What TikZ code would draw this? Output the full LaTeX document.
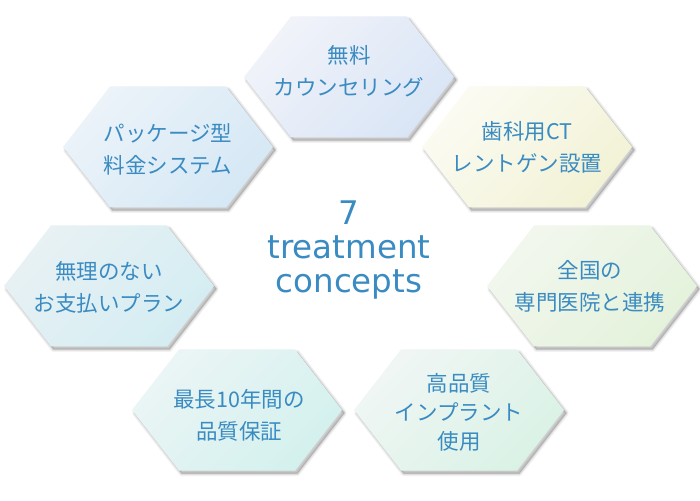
\documentclass[tikz,border=0pt]{standalone}
\usepackage{fontspec}
\setmainfont{Noto Sans CJK JP}
\newfontfamily\latinfont{DejaVu Sans}
\definecolor{txtblue}{HTML}{3A8BC2}
\definecolor{aA}{HTML}{F1F3F9}\definecolor{aB}{HTML}{D9E5F6}
\definecolor{bA}{HTML}{FBFBF3}\definecolor{bB}{HTML}{F2F2D6}
\definecolor{cA}{HTML}{F2F7EE}\definecolor{cB}{HTML}{E4F2DB}
\definecolor{dA}{HTML}{F0F6F4}\definecolor{dB}{HTML}{DAF2E6}
\definecolor{eA}{HTML}{EBF5F5}\definecolor{eB}{HTML}{D3F1EE}
\definecolor{fA}{HTML}{E8F1F4}\definecolor{fB}{HTML}{D4EDF2}
\definecolor{gA}{HTML}{ECF3F9}\definecolor{gB}{HTML}{D5E8F5}
\tikzset{
  shadowlayer/.style={fill=black, draw=black, line join=round, fill opacity=#1, draw opacity=#1},
  hextext/.style={text=txtblue, align=center, font=\fontsize{21.5}{32}\selectfont, inner sep=0pt},
  hextextiii/.style={hextext, font=\fontsize{21.5}{29}\selectfont},
  centertext/.style={text=txtblue, align=center, font=\latinfont\fontsize{32.5}{34}\selectfont, inner sep=0pt}
}
\newcommand\hexpath[2]{(#1,#2) +(-105,0) -- +(-58,60.5) -- +(58,60.5) -- +(105,0) -- +(58,-60.5) -- +(-58,-60.5) -- cycle}
\newcommand\hexa[4]{%
  \begin{scope}[shift={(2.5,-3)}]
    \path[shadowlayer=0.05, line width=5pt] \hexpath{#1}{#2};
    \path[shadowlayer=0.06, line width=3pt] \hexpath{#1}{#2};
    \path[shadowlayer=0.08, line width=1pt] \hexpath{#1}{#2};
  \end{scope}
  \path[left color=#3, right color=#4, shading angle=45] \hexpath{#1}{#2};}
\begin{document}
\begin{tikzpicture}[x=1pt,y=1pt]
\useasboundingbox (0,0) rectangle (700,500);
\hexa{349}{423}{aA}{aB}
\hexa{527}{353}{bA}{bB}
\hexa{592}{214}{cA}{cB}
\hexa{459}{90}{dA}{dB}
\hexa{237}{90}{eA}{eB}
\hexa{109}{214}{fA}{fB}
\hexa{168}{353}{gA}{gB}
\node[hextext] (h1) at (349,429) {無料\\カウンセリング};
\node[hextext] (h2) at (527,353) {歯科用CT\\レントゲン設置};
\node[hextext] (h3) at (590,214) {全国の\\専門医院と連携};
\node[hextextiii] (h4) at (459,88) {高品質\\インプラント\\使用};
\node[hextext] (h5) at (239,85) {最長10年間の\\品質保証};
\node[hextext] (h6) at (109,213) {無理のない\\お支払いプラン};
\node[hextext] (h7) at (168,351) {パッケージ型\\料金システム};
\node[centertext] (c) at (349,250) {7\\treatment\\concepts};
\end{tikzpicture}
\end{document}
